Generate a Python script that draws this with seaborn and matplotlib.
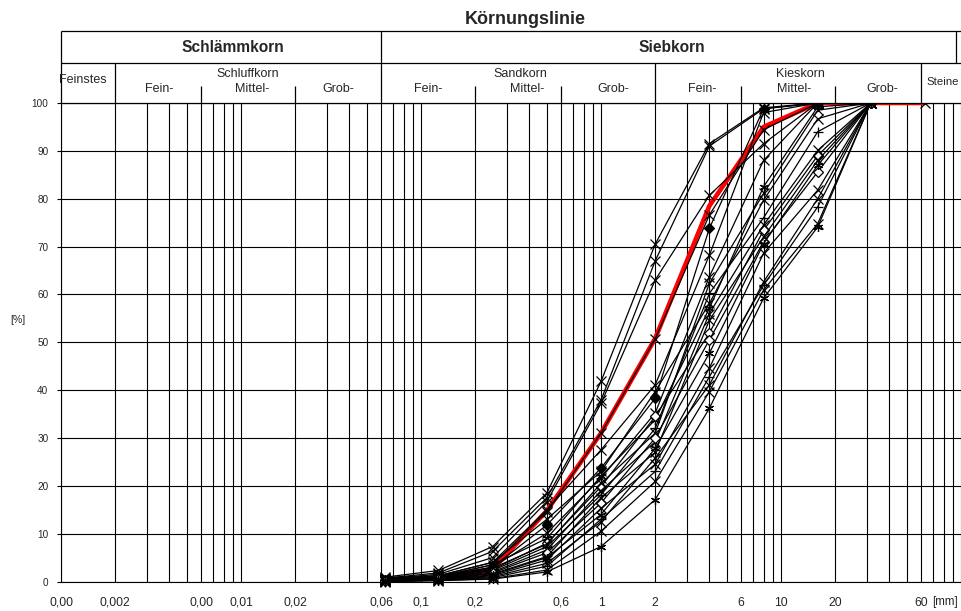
import pandas as pd
import seaborn as sns
import matplotlib.pyplot as plt
from matplotlib.ticker import FixedLocator, FixedFormatter, LogLocator, NullFormatter

# sieve sizes [mm]
sieve = [0.063, 0.125, 0.25, 0.5, 1, 2, 4, 8, 16, 31.5, 63]

# passing [%] per sample
p01 = [0.9, 2.3, 7.3, 18.5, 41.8, 70.5, 91.5, 99.0, 100, 100]
p02 = [0.7, 1.8, 6.3, 17.5, 37.9, 67.0, 91.0, 98.8, 100, 100]
p03 = [0.6, 1.5, 5.0, 16.7, 37.2, 63.0, 80.7, 91.5, 100, 100]
p04 = [0.5, 1.0, 3.5, 14.6, 31.0, 50.7, 76.6, 94.4, 100, 100, 100]
p05 = [0.4, 1.0, 3.0, 11.8, 23.7, 38.3, 73.8, 98.8, 100, 100]
p06 = [0.5, 1.2, 4.0, 15.0, 27.5, 41.1, 68.2, 98.0, 100, 100]
p07 = [0.5, 1.2, 4.0, 13.0, 23.0, 39.7, 58.1, 79.7, 96.7, 100]
p08 = [0.4, 0.9, 3.0, 10.1, 21.6, 35.2, 63.7, 88.0, 100, 100]
p09 = [0.4, 1.0, 3.5, 9.0, 22.0, 33.8, 57.1, 82.5, 99.2, 100]
p10 = [0.3, 0.8, 2.5, 8.0, 19.8, 34.5, 51.9, 73.4, 89.0, 100]
p11 = [0.3, 0.7, 2.8, 7.8, 20.5, 31.0, 62.3, 81.1, 98.5, 100]
p12 = [0.3, 0.7, 2.3, 7.3, 18.1, 32.0, 60.2, 76.0, 94.0, 100]
p13 = [0.2, 0.6, 2.0, 6.6, 19.0, 29.2, 56.0, 74.5, 90.1, 100]
p14 = [0.2, 0.5, 1.8, 6.0, 16.4, 30.0, 50.5, 71.0, 85.6, 100]
p15 = [0.2, 0.5, 1.6, 5.2, 17.5, 27.0, 54.6, 72.0, 88.0, 100]
p16 = [0.1, 0.4, 1.4, 5.0, 14.0, 27.8, 47.7, 70.6, 87.0, 100]
p17 = [0.1, 0.4, 1.2, 4.5, 15.3, 24.5, 44.6, 68.6, 81.8, 100]
p18 = [0.1, 0.3, 1.0, 3.8, 12.5, 25.8, 41.1, 62.6, 80.0, 100]
p19 = [0.0, 0.3, 0.8, 3.2, 13.0, 23.0, 42.8, 61.9, 78.3, 100]
p20 = [0.0, 0.2, 0.6, 2.4, 10.5, 20.9, 39.7, 60.9, 74.8, 100]
p21 = [0.0, 0.2, 0.5, 2.0, 7.3, 17.1, 36.2, 59.2, 74.1, 100]

# red reference curve
soll = [0.5, 0.8, 2.5, 14.8, 31.0, 50.8, 78.5, 95.0, 100, 100, 100]

samples = [p01, p02, p03, p04, p05, p06, p07, p08, p09, p10, p11,
           p12, p13, p14, p15, p16, p17, p18, p19, p20, p21]
ast = (6, 2, 0)
markers = ["x", "x", "x", "x", "D", "x", "x", "x", ast, "D", "x",
           "+", "x", "D", "x", ast, "x", "x", "+", "x", ast]
fills = ["k", "k", "k", "k", "k", "k", "k", "k", "k", "w", "k",
         "k", "k", "w", "k", "k", "k", "k", "k", "k", "k"]

tick_pos = [0.001, 0.002, 0.006, 0.01, 0.02, 0.06, 0.1, 0.2, 0.6, 1, 2, 6, 10, 20, 60]
tick_lab = ["0,00", "0,002", "0,00", "0,01", "0,02", "0,06", "0,1", "0,2",
            "0,6", "1", "2", "6", "10", "20", "60"]

sns.set_style("white")
plt.rcParams["font.family"] = ["Liberation Sans", "DejaVu Sans"]

W, H = 961, 611
fig = plt.figure(figsize=(W / 100, H / 100), dpi=100)


def px(x, y):
    return x / W, 1 - y / H


ax = fig.add_axes([61 / W, 1 - 581.5 / H, 900 / W, 478.5 / H])
ax.set_xscale("log")

rows = []
for i, vals in enumerate(samples):
    for d, v in zip(sieve, vals):
        rows.append({"probe": i, "d": d, "pct": v})
df = pd.DataFrame(rows)

sns.lineplot(x=sieve, y=soll, ax=ax, color="#ff0000", lw=3.3, errorbar=None, zorder=3)
for i, (mk, fc) in enumerate(zip(markers, fills)):
    g = df[df["probe"] == i]
    sns.lineplot(data=g, x="d", y="pct", ax=ax, color="black", lw=0.9,
                 marker=mk, markersize=5 if mk == "D" else 6.5,
                 markeredgecolor="black", markerfacecolor=fc,
                 markeredgewidth=0.9, errorbar=None, zorder=4)
for ln in ax.lines:
    ln.set_clip_on(False)

ax.set_xlim(0.001, 100)
ax.set_ylim(0, 100)
ax.set_xlabel("")
ax.set_ylabel("")
ax.xaxis.set_major_locator(FixedLocator(tick_pos))
ax.xaxis.set_major_formatter(FixedFormatter(tick_lab))
ax.xaxis.set_minor_locator(LogLocator(base=10, subs=range(1, 10), numticks=20))
ax.xaxis.set_minor_formatter(NullFormatter())
ax.set_yticks(range(0, 101, 10))
ax.grid(which="both", axis="x", color="black", lw=0.8)
ax.grid(which="major", axis="y", color="black", lw=0.8)
ax.tick_params(axis="x", which="both", length=0, pad=11, labelsize=8.7)
ax.tick_params(axis="y", length=3, width=0.8, pad=6, labelsize=7.2,
               color="black", left=True)
for s in ["top", "right"]:
    ax.spines[s].set_visible(False)
for s in ["left", "bottom"]:
    ax.spines[s].set_color("black")
    ax.spines[s].set_linewidth(0.8)

# header table
hx = fig.add_axes([61 / W, 1 - 103 / H, 900 / W, 72 / H])
hx.set_xscale("log")
hx.set_xlim(0.001, 100)
hx.set_ylim(72, 0)
hx.set_facecolor("white")
for s in hx.spines.values():
    s.set_visible(False)
hx.tick_params(which="both", length=0, labelbottom=False, labelleft=False)
hx.xaxis.set_minor_formatter(NullFormatter())
lk = dict(color="black", lw=0.9, clip_on=False)
hx.hlines([0, 32, 72], 0.001, 100, **lk)
hx.vlines([0.001, 0.06], 0, 72, **lk)
hx.vlines([94], 0, 32, **lk)
hx.vlines([0.002, 2, 60], 32, 72, **lk)
hx.vlines([0.006, 0.02, 0.2, 0.6, 6, 20], 55, 72, **lk)

fig.text(*px(525, 19), "Körnungslinie", ha="center", va="center",
         fontsize=13, fontweight="bold")
fig.text(*px(233, 48), "Schlämmkorn", ha="center", va="center",
         fontsize=11.2, fontweight="bold")
fig.text(*px(672, 48), "Siebkorn", ha="center", va="center",
         fontsize=11.2, fontweight="bold")
head = [("Feinstes", 83, 80), ("Schluffkorn", 248, 74), ("Fein-", 159, 89),
        ("Mittel-", 252, 89), ("Grob-", 338, 89), ("Fein-", 428, 89),
        ("Sandkorn", 520, 74), ("Mittel-", 527, 89), ("Grob-", 613, 89),
        ("Fein-", 702, 89), ("Kieskorn", 800, 74), ("Mittel-", 794, 89),
        ("Grob-", 882, 89)]
for t, x, y in head:
    fig.text(*px(x, y), t, ha="center", va="center", fontsize=9)
fig.text(*px(926, 82), "Steine", ha="left", va="center", fontsize=8.2)

fig.text(*px(18, 320), "[%]", ha="center", va="center", fontsize=7.5)
fig.text(*px(932, 602), "[mm]", ha="left", va="center", fontsize=8.4)

fig.savefig("out.png", dpi=100)
